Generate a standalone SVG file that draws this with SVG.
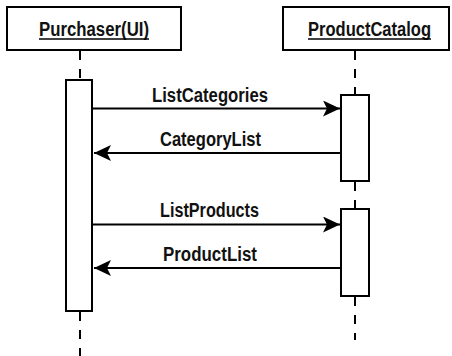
<svg xmlns="http://www.w3.org/2000/svg" width="452" height="356" viewBox="0 0 452 356">
<style>
.box{fill:#fff;stroke:#000;stroke-width:2}
.life{stroke:#000;stroke-width:2;stroke-dasharray:9,9;fill:none}
.msg{stroke:#000;stroke-width:2;fill:none}
text{font-family:"Liberation Sans",Arial,sans-serif;font-size:19.5px;font-weight:bold;fill:#111;text-anchor:middle}
</style>
<defs>
<marker id="ah" markerWidth="18" markerHeight="16" refX="17" refY="8" orient="auto" markerUnits="userSpaceOnUse">
<path d="M0,0 L17,8 L0,16 L4,8 Z" fill="#000"/>
</marker>
</defs>
<g id="lifelines">
<line class="life" x1="80" y1="51" x2="80" y2="80"/>
<line class="life" x1="80" y1="312" x2="80" y2="356"/>
<line class="life" x1="355" y1="51" x2="355" y2="95"/>
<line class="life" x1="355" y1="182" x2="355" y2="209"/>
<line class="life" x1="355" y1="297" x2="355" y2="340"/>
</g>
<g id="purchaser">
<rect class="box" x="7" y="7" width="174" height="43"/>
<text x="94" y="36" textLength="110" lengthAdjust="spacingAndGlyphs">Purchaser(UI)</text>
<line x1="39" y1="39" x2="149" y2="39" stroke="#000" stroke-width="1.5"/>
</g>
<g id="catalog">
<rect class="box" x="283" y="7" width="166" height="43"/>
<text x="369.5" y="36" textLength="123" lengthAdjust="spacingAndGlyphs">ProductCatalog</text>
<line x1="308" y1="39" x2="431" y2="39" stroke="#000" stroke-width="1.5"/>
</g>
<g id="act-purchaser">
<rect class="box" x="66" y="80" width="26" height="231"/>
</g>
<g id="act-catalog-1">
<rect class="box" x="341" y="95" width="28" height="86"/>
</g>
<g id="act-catalog-2">
<rect class="box" x="341" y="209" width="28" height="87"/>
</g>
<g id="connectors">
<line class="msg" x1="92" y1="108.5" x2="340" y2="108.5" marker-end="url(#ah)"/>
<line class="msg" x1="341" y1="153" x2="94" y2="153" marker-end="url(#ah)"/>
<line class="msg" x1="92" y1="224.5" x2="340" y2="224.5" marker-end="url(#ah)"/>
<line class="msg" x1="341" y1="268" x2="94" y2="268" marker-end="url(#ah)"/>
</g>
<g id="labels">
<text x="210" y="102" textLength="116" lengthAdjust="spacingAndGlyphs">ListCategories</text>
<text x="210.5" y="146" textLength="101" lengthAdjust="spacingAndGlyphs">CategoryList</text>
<text x="209.5" y="217" textLength="99" lengthAdjust="spacingAndGlyphs">ListProducts</text>
<text x="210" y="261" textLength="94" lengthAdjust="spacingAndGlyphs">ProductList</text>
</g>
</svg>
